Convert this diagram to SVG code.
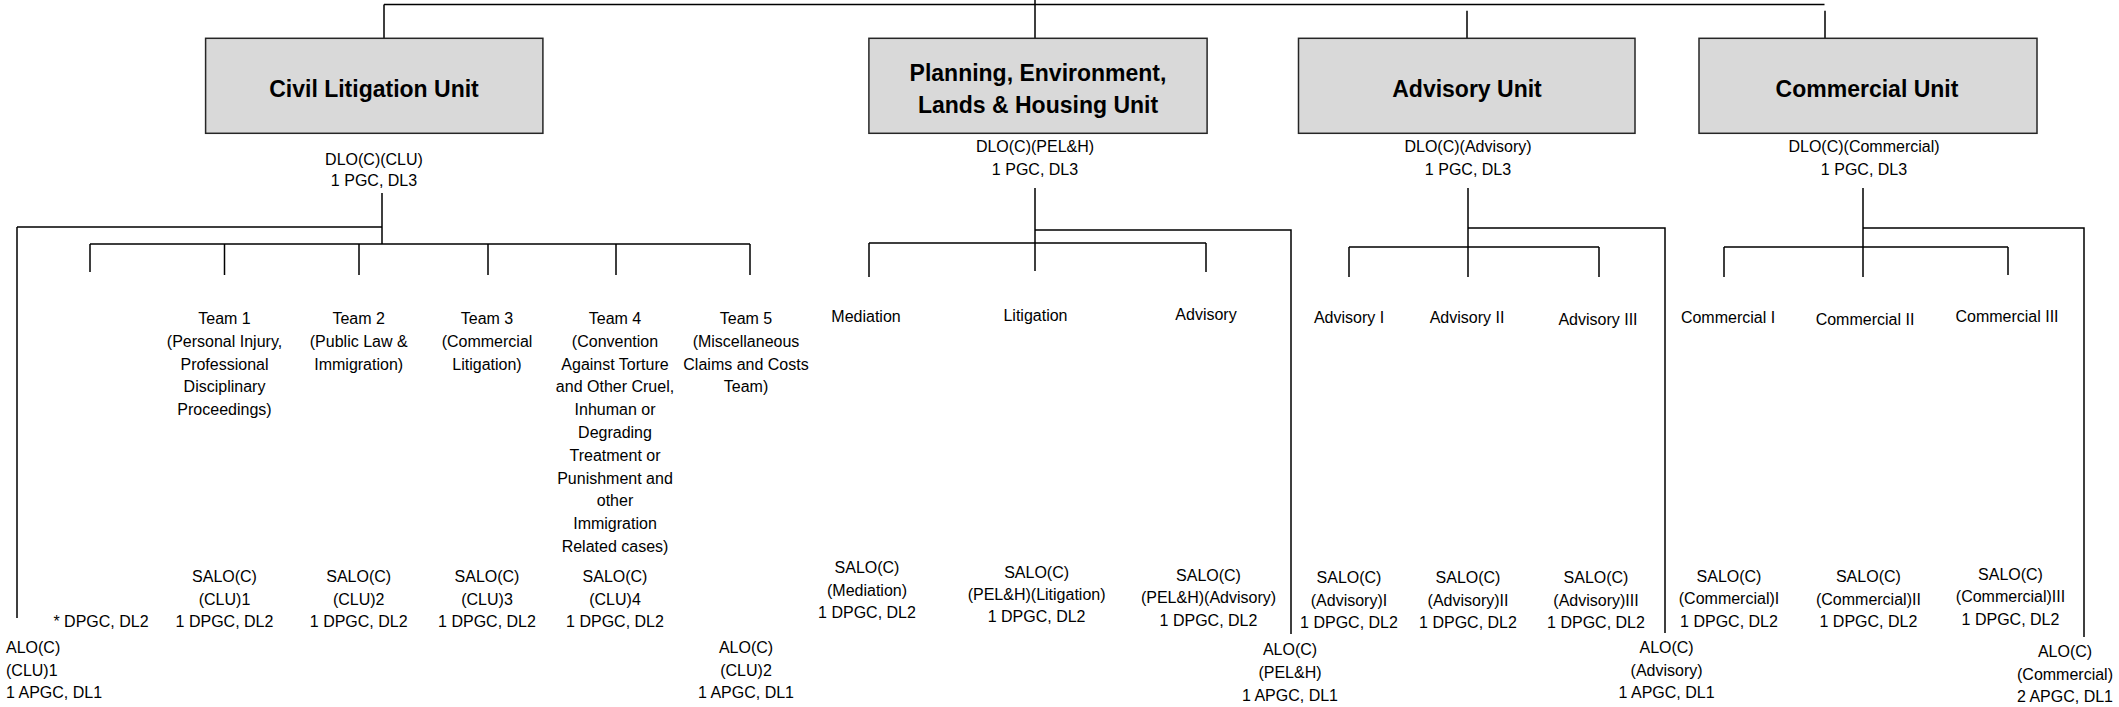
<svg xmlns="http://www.w3.org/2000/svg" width="2119" height="707" viewBox="0 0 2119 707">
<style>
.bg{fill:#ffffff}
.box{fill:#d9d9d9;stroke:#262626;stroke-width:1.5}
.ttl{font-family:"Liberation Sans",Arial,sans-serif;font-weight:bold;font-size:23px;fill:#000;text-anchor:middle}
.t{font-family:"Liberation Sans",Arial,sans-serif;font-size:16px;fill:#000;text-anchor:middle}
.tl{font-family:"Liberation Sans",Arial,sans-serif;font-size:16px;fill:#000;text-anchor:start}
.c{fill:none;stroke:#000;stroke-width:1.5}
</style>
<rect class="bg" x="0" y="0" width="2119" height="707"/>
<g id="connectors">
<path class="c" d="M384,4.5 H1824.5 M384,4.5 V38.3 M1035,0 V38.3 M1467,10.7 V38.3 M1825,10.7 V38.3"/>
<path class="c" d="M382,193 V244 M17,227 H382 M17,227 V618 M90,244 H750 M90,244 V272 M224.5,244 V275 M359,244 V275 M488,244 V275 M616,244 V275 M750,244 V275"/>
<path class="c" d="M1035,188 V271 M1035,230 H1291 V634 M869,243 H1206 M869,243 V277 M1206,243 V272"/>
<path class="c" d="M1468,188 V277 M1468,228 H1665 V633 M1349,247 H1599 M1349,247 V277 M1599,247 V277"/>
<path class="c" d="M1863,188 V277 M1863,228 H2084 V637 M1724,247 H2008 M1724,247 V277 M2008,247 V275"/>
</g>
<g id="clu">
<rect class="box" x="205.6" y="38.3" width="337.3" height="95"/>
<text class="ttl" x="374" y="97">Civil Litigation Unit</text>
<text class="t" x="374" y="165">DLO(C)(CLU)</text>
<text class="t" x="374" y="186">1 PGC, DL3</text>
</g>
<g id="pelh">
<rect class="box" x="868.9" y="38.3" width="338.2" height="95"/>
<text class="ttl" x="1038" y="81">Planning, Environment,</text>
<text class="ttl" x="1038" y="113">Lands &amp; Housing Unit</text>
<text class="t" x="1035" y="152">DLO(C)(PEL&amp;H)</text>
<text class="t" x="1035" y="175">1 PGC, DL3</text>
</g>
<g id="advisory">
<rect class="box" x="1298.5" y="38.3" width="336.5" height="95"/>
<text class="ttl" x="1467" y="97">Advisory Unit</text>
<text class="t" x="1468" y="152">DLO(C)(Advisory)</text>
<text class="t" x="1468" y="175">1 PGC, DL3</text>
</g>
<g id="commercial">
<rect class="box" x="1699" y="38.3" width="338" height="95"/>
<text class="ttl" x="1867" y="97">Commercial Unit</text>
<text class="t" x="1864" y="152">DLO(C)(Commercial)</text>
<text class="t" x="1864" y="175">1 PGC, DL3</text>
</g>
<g id="team1">
<text class="t" x="224.5" y="324">Team 1</text>
<text class="t" x="224.5" y="346.8">(Personal Injury,</text>
<text class="t" x="224.5" y="369.6">Professional</text>
<text class="t" x="224.5" y="392.4">Disciplinary</text>
<text class="t" x="224.5" y="415.2">Proceedings)</text>
</g>
<g id="team2">
<text class="t" x="358.7" y="324">Team 2</text>
<text class="t" x="358.7" y="346.8">(Public Law &amp;</text>
<text class="t" x="358.7" y="369.6">Immigration)</text>
</g>
<g id="team3">
<text class="t" x="487" y="324">Team 3</text>
<text class="t" x="487" y="346.8">(Commercial</text>
<text class="t" x="487" y="369.6">Litigation)</text>
</g>
<g id="team4">
<text class="t" x="615" y="324">Team 4</text>
<text class="t" x="615" y="346.8">(Convention</text>
<text class="t" x="615" y="369.6">Against Torture</text>
<text class="t" x="615" y="392.4">and Other Cruel,</text>
<text class="t" x="615" y="415.2">Inhuman or</text>
<text class="t" x="615" y="438">Degrading</text>
<text class="t" x="615" y="460.8">Treatment or</text>
<text class="t" x="615" y="483.6">Punishment and</text>
<text class="t" x="615" y="506.4">other</text>
<text class="t" x="615" y="529.2">Immigration</text>
<text class="t" x="615" y="552">Related cases)</text>
</g>
<g id="team5">
<text class="t" x="746" y="324">Team 5</text>
<text class="t" x="746" y="346.8">(Miscellaneous</text>
<text class="t" x="746" y="369.6">Claims and Costs</text>
<text class="t" x="746" y="392.4">Team)</text>
</g>
<g id="clu-salo">
<text class="t" x="101" y="627">* DPGC, DL2</text>
<text class="t" x="224.5" y="582">SALO(C)</text>
<text class="t" x="224.5" y="604.5">(CLU)1</text>
<text class="t" x="224.5" y="627">1 DPGC, DL2</text>
<text class="t" x="358.7" y="582">SALO(C)</text>
<text class="t" x="358.7" y="604.5">(CLU)2</text>
<text class="t" x="358.7" y="627">1 DPGC, DL2</text>
<text class="t" x="487" y="582">SALO(C)</text>
<text class="t" x="487" y="604.5">(CLU)3</text>
<text class="t" x="487" y="627">1 DPGC, DL2</text>
<text class="t" x="615" y="582">SALO(C)</text>
<text class="t" x="615" y="604.5">(CLU)4</text>
<text class="t" x="615" y="627">1 DPGC, DL2</text>
</g>
<g id="clu-alo">
<text class="tl" x="6" y="653">ALO(C)</text>
<text class="tl" x="6" y="675.5">(CLU)1</text>
<text class="tl" x="6" y="698">1 APGC, DL1</text>
<text class="t" x="746" y="653">ALO(C)</text>
<text class="t" x="746" y="675.5">(CLU)2</text>
<text class="t" x="746" y="698">1 APGC, DL1</text>
</g>
<g id="pelh-teams">
<text class="t" x="866" y="321.5">Mediation</text>
<text class="t" x="1035.5" y="320.5">Litigation</text>
<text class="t" x="1206" y="320">Advisory</text>
<text class="t" x="867" y="573.3">SALO(C)</text>
<text class="t" x="867" y="595.5">(Mediation)</text>
<text class="t" x="867" y="617.5">1 DPGC, DL2</text>
<text class="t" x="1036.6" y="577.7">SALO(C)</text>
<text class="t" x="1036.6" y="599.7">(PEL&amp;H)(Litigation)</text>
<text class="t" x="1036.6" y="621.7">1 DPGC, DL2</text>
<text class="t" x="1208.5" y="581">SALO(C)</text>
<text class="t" x="1208.5" y="603.3">(PEL&amp;H)(Advisory)</text>
<text class="t" x="1208.5" y="626">1 DPGC, DL2</text>
<text class="t" x="1290" y="655">ALO(C)</text>
<text class="t" x="1290" y="678">(PEL&amp;H)</text>
<text class="t" x="1290" y="700.7">1 APGC, DL1</text>
</g>
<g id="advisory-teams">
<text class="t" x="1349" y="323.3">Advisory I</text>
<text class="t" x="1467" y="323.3">Advisory II</text>
<text class="t" x="1598" y="325">Advisory III</text>
<text class="t" x="1349" y="583.3">SALO(C)</text>
<text class="t" x="1349" y="605.5">(Advisory)I</text>
<text class="t" x="1349" y="627.5">1 DPGC, DL2</text>
<text class="t" x="1468" y="583.3">SALO(C)</text>
<text class="t" x="1468" y="605.5">(Advisory)II</text>
<text class="t" x="1468" y="627.5">1 DPGC, DL2</text>
<text class="t" x="1596" y="583.3">SALO(C)</text>
<text class="t" x="1596" y="605.5">(Advisory)III</text>
<text class="t" x="1596" y="627.5">1 DPGC, DL2</text>
<text class="t" x="1666.6" y="653.3">ALO(C)</text>
<text class="t" x="1666.6" y="675.5">(Advisory)</text>
<text class="t" x="1666.6" y="697.7">1 APGC, DL1</text>
</g>
<g id="commercial-teams">
<text class="t" x="1728" y="323.3">Commercial I</text>
<text class="t" x="1865" y="325">Commercial II</text>
<text class="t" x="2007" y="321.7">Commercial III</text>
<text class="t" x="1729" y="581.7">SALO(C)</text>
<text class="t" x="1729" y="603.7">(Commercial)I</text>
<text class="t" x="1729" y="626.5">1 DPGC, DL2</text>
<text class="t" x="1868.4" y="581.7">SALO(C)</text>
<text class="t" x="1868.4" y="604.5">(Commercial)II</text>
<text class="t" x="1868.4" y="627.3">1 DPGC, DL2</text>
<text class="t" x="2010.5" y="580">SALO(C)</text>
<text class="t" x="2010.5" y="602">(Commercial)III</text>
<text class="t" x="2010.5" y="625">1 DPGC, DL2</text>
<text class="t" x="2065" y="656.7">ALO(C)</text>
<text class="t" x="2065" y="679.5">(Commercial)</text>
<text class="t" x="2065" y="701.7">2 APGC, DL1</text>
</g>
</svg>
